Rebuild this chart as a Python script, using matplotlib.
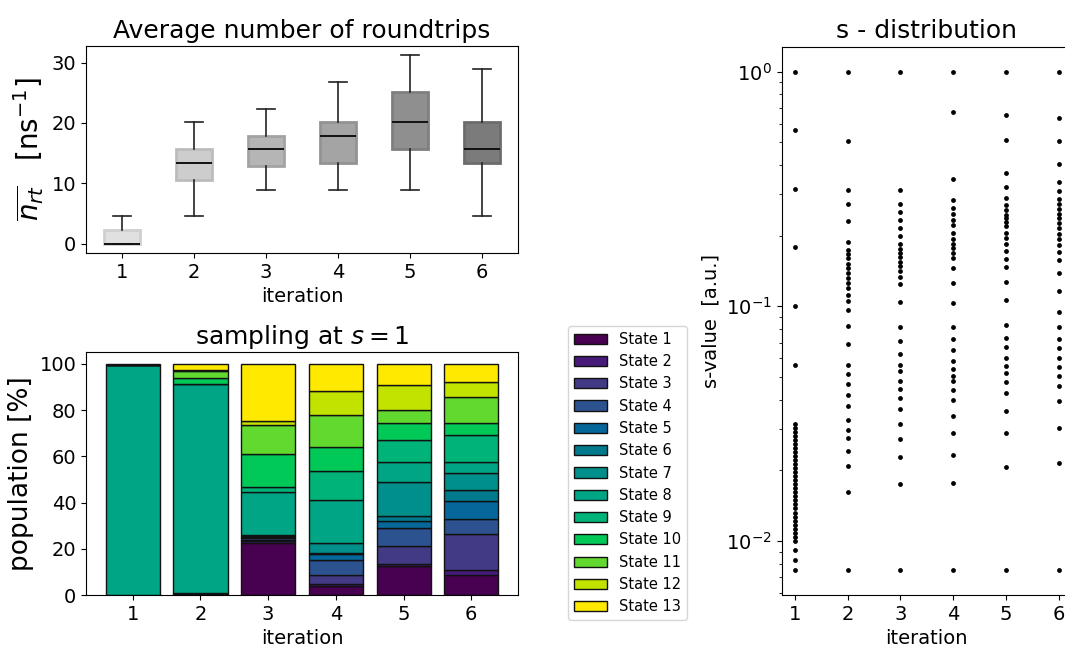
import numpy as np
import matplotlib.pyplot as plt

# ---- data ----
iterations = [1, 2, 3, 4, 5, 6]

# roundtrip box statistics per iteration [ns^-1]
rt_med = [0.0, 13.4, 15.6, 17.9, 20.1, 15.6]
rt_q1 = [0.0, 10.6, 12.9, 13.4, 15.6, 13.4]
rt_q3 = [2.2, 15.6, 17.9, 20.1, 25.2, 20.1]
rt_lo = [0.0, 4.5, 8.9, 8.9, 8.9, 4.5]
rt_hi = [4.5, 20.1, 22.3, 26.8, 31.2, 29.0]

# population [%] of each state at s=1, one list per state (iterations 1..6)
state_names = ['State %d' % i for i in range(1, 14)]
pop = [
    [0.0, 1.0, 22.7, 4.0, 12.7, 8.5],    # State 1
    [0.0, 0.0, 0.5, 0.6, 0.7, 2.2],      # State 2
    [0.0, 0.0, 0.6, 4.1, 7.6, 15.9],     # State 3
    [0.0, 0.0, 0.8, 6.5, 7.9, 6.3],      # State 4
    [0.0, 0.0, 0.3, 2.4, 3.2, 7.6],      # State 5
    [0.0, 0.0, 0.5, 0.5, 1.9, 4.9],      # State 6
    [0.0, 0.0, 0.5, 4.6, 14.8, 7.3],     # State 7
    [99.4, 90.5, 18.6, 18.5, 8.6, 4.7],  # State 8
    [0.0, 0.0, 2.2, 12.3, 9.5, 11.8],    # State 9
    [0.3, 2.6, 14.4, 10.4, 7.4, 5.4],    # State 10
    [0.0, 3.0, 12.5, 14.0, 5.8, 11.1],   # State 11
    [0.0, 0.4, 1.5, 10.5, 10.9, 6.4],    # State 12
    [0.3, 2.5, 24.9, 11.6, 9.0, 7.9],    # State 13
]

# s-values used in every iteration
s_it1 = [1.0, 0.562, 0.316, 0.178, 0.1, 0.0562,
         0.03162, 0.03039, 0.02921, 0.02807, 0.02698, 0.02593, 0.02492,
         0.02395, 0.02302, 0.02212, 0.02126, 0.02043, 0.01964, 0.01887,
         0.01814, 0.01743, 0.01675, 0.01610, 0.01548, 0.01487, 0.01429,
         0.01374, 0.01320, 0.01269, 0.01220, 0.01172, 0.01126, 0.01083,
         0.01040, 0.01000, 0.0091, 0.0083, 0.0075]
s_it2 = [1.0, 0.508, 0.314, 0.273, 0.231, 0.188, 0.174, 0.167, 0.160,
         0.152, 0.146, 0.138, 0.132, 0.126, 0.119, 0.112, 0.105, 0.096,
         0.0826, 0.069, 0.0561, 0.0512, 0.0467, 0.042, 0.0374, 0.0327,
         0.0297, 0.0275, 0.0242, 0.0209, 0.0161, 0.0075]
s_it3 = [1.0, 0.314, 0.274, 0.252, 0.232, 0.216, 0.199, 0.184, 0.176,
         0.169, 0.162, 0.155, 0.148, 0.141, 0.133, 0.124, 0.1045, 0.0818,
         0.0708, 0.0625, 0.0561, 0.0527, 0.0481, 0.0445, 0.0407, 0.0364,
         0.0315, 0.0272, 0.0228, 0.0174, 0.0075]
s_it4 = [1.0, 0.675, 0.350, 0.283, 0.263, 0.247, 0.234, 0.221, 0.206,
         0.194, 0.185, 0.177, 0.169, 0.160, 0.146, 0.126, 0.103, 0.0812,
         0.0727, 0.0652, 0.0586, 0.0541, 0.0502, 0.0478, 0.0441, 0.0397,
         0.0341, 0.0288, 0.0232, 0.0176, 0.0075]
s_it5 = [1.0, 0.653, 0.511, 0.370, 0.321, 0.288, 0.271, 0.258, 0.246,
         0.237, 0.228, 0.219, 0.206, 0.195, 0.184, 0.172, 0.159, 0.147,
         0.127, 0.106, 0.0834, 0.0732, 0.0669, 0.0601, 0.0557, 0.0517,
         0.0473, 0.0425, 0.0358, 0.0287, 0.0206, 0.0075]
s_it6 = [1.0, 0.637, 0.505, 0.404, 0.340, 0.309, 0.286, 0.273, 0.260,
         0.248, 0.237, 0.226, 0.216, 0.204, 0.194, 0.182, 0.171, 0.157,
         0.138, 0.116, 0.0948, 0.0812, 0.0725, 0.0664, 0.0601, 0.0550,
         0.0502, 0.0459, 0.0393, 0.0303, 0.0214, 0.0075]
s_values = [s_it1, s_it2, s_it3, s_it4, s_it5, s_it6]

# ---- styles ----
box_face = ['#e0e0e0', '#cdcdcd', '#b5b5b5', '#a4a4a4', '#8f8f8f', '#7b7b7b']
box_edge = ['#cfcfcf', '#bcbcbc', '#a3a3a3', '#939393', '#7f7f7f', '#6c6c6c']
state_colors = ['#480050', '#481b7a', '#433a85', '#2d5290', '#05679a',
                '#007a8c', '#008f8a', '#00a585', '#00b479', '#00c957',
                '#62d92f', '#c2e200', '#ffe900']

fig = plt.figure(figsize=(10.65, 6.46), dpi=100)

# top left: roundtrips
ax1 = fig.add_axes([0.0808, 0.6084, 0.4056, 0.3204])
stats = []
for i in range(len(iterations)):
    stats.append({'med': rt_med[i], 'q1': rt_q1[i], 'q3': rt_q3[i],
                  'whislo': rt_lo[i], 'whishi': rt_hi[i]})
bp = ax1.bxp(stats, positions=iterations, widths=0.5, patch_artist=True,
             showfliers=False,
             whiskerprops=dict(color='#222222', linewidth=1.2),
             capprops=dict(color='#222222', linewidth=1.2),
             medianprops=dict(color='#111111', linewidth=1.4))
for patch, fc, ec in zip(bp['boxes'], box_face, box_edge):
    patch.set_facecolor(fc)
    patch.set_edgecolor(ec)
    patch.set_linewidth(2)
ax1.set_yticks([0, 10, 20, 30])
ax1.set_title('Average number of roundtrips', fontsize=18)
ax1.set_xlabel('iteration', fontsize=14)
ax1.set_ylabel(r'$\overline{n_{rt}}$   [ns$^{-1}$]', fontsize=20)
ax1.tick_params(labelsize=14)

# bottom left: stacked populations
ax2 = fig.add_axes([0.0808, 0.0789, 0.4056, 0.3757])
bottom = np.zeros(len(iterations))
for k in range(len(state_names)):
    ax2.bar(iterations, pop[k], width=0.8, bottom=bottom,
            color=state_colors[k], edgecolor='#111111', linewidth=1,
            label=state_names[k])
    bottom = bottom + np.array(pop[k])
ax2.set_xticks(iterations)
ax2.set_yticks([0, 20, 40, 60, 80, 100])
ax2.set_title('sampling at $s=1$', fontsize=18)
ax2.set_xlabel('iteration', fontsize=14)
ax2.set_ylabel('population [%]', fontsize=19)
ax2.tick_params(labelsize=14)
ax2.legend(loc='upper left', bbox_to_anchor=(0.5333, 0.4954),
           bbox_transform=fig.transFigure, borderaxespad=0, fontsize=10.5,
           labelspacing=0.5, handlelength=2.3)

# right: s-distribution (runs past the right edge as in the reference)
ax3 = fig.add_axes([0.734, 0.0789, 0.2726, 0.8488])
for it, sv in zip(iterations, s_values):
    ax3.scatter([it] * len(sv), sv, s=12, color='black', linewidths=0)
ax3.set_yscale('log')
ax3.set_xticks(iterations)
ax3.set_title('s - distribution', fontsize=18)
ax3.set_xlabel('iteration', fontsize=14)
ax3.set_ylabel('s-value  [a.u.]', fontsize=14)
ax3.tick_params(labelsize=14)

fig.savefig('out.png', dpi=100)
